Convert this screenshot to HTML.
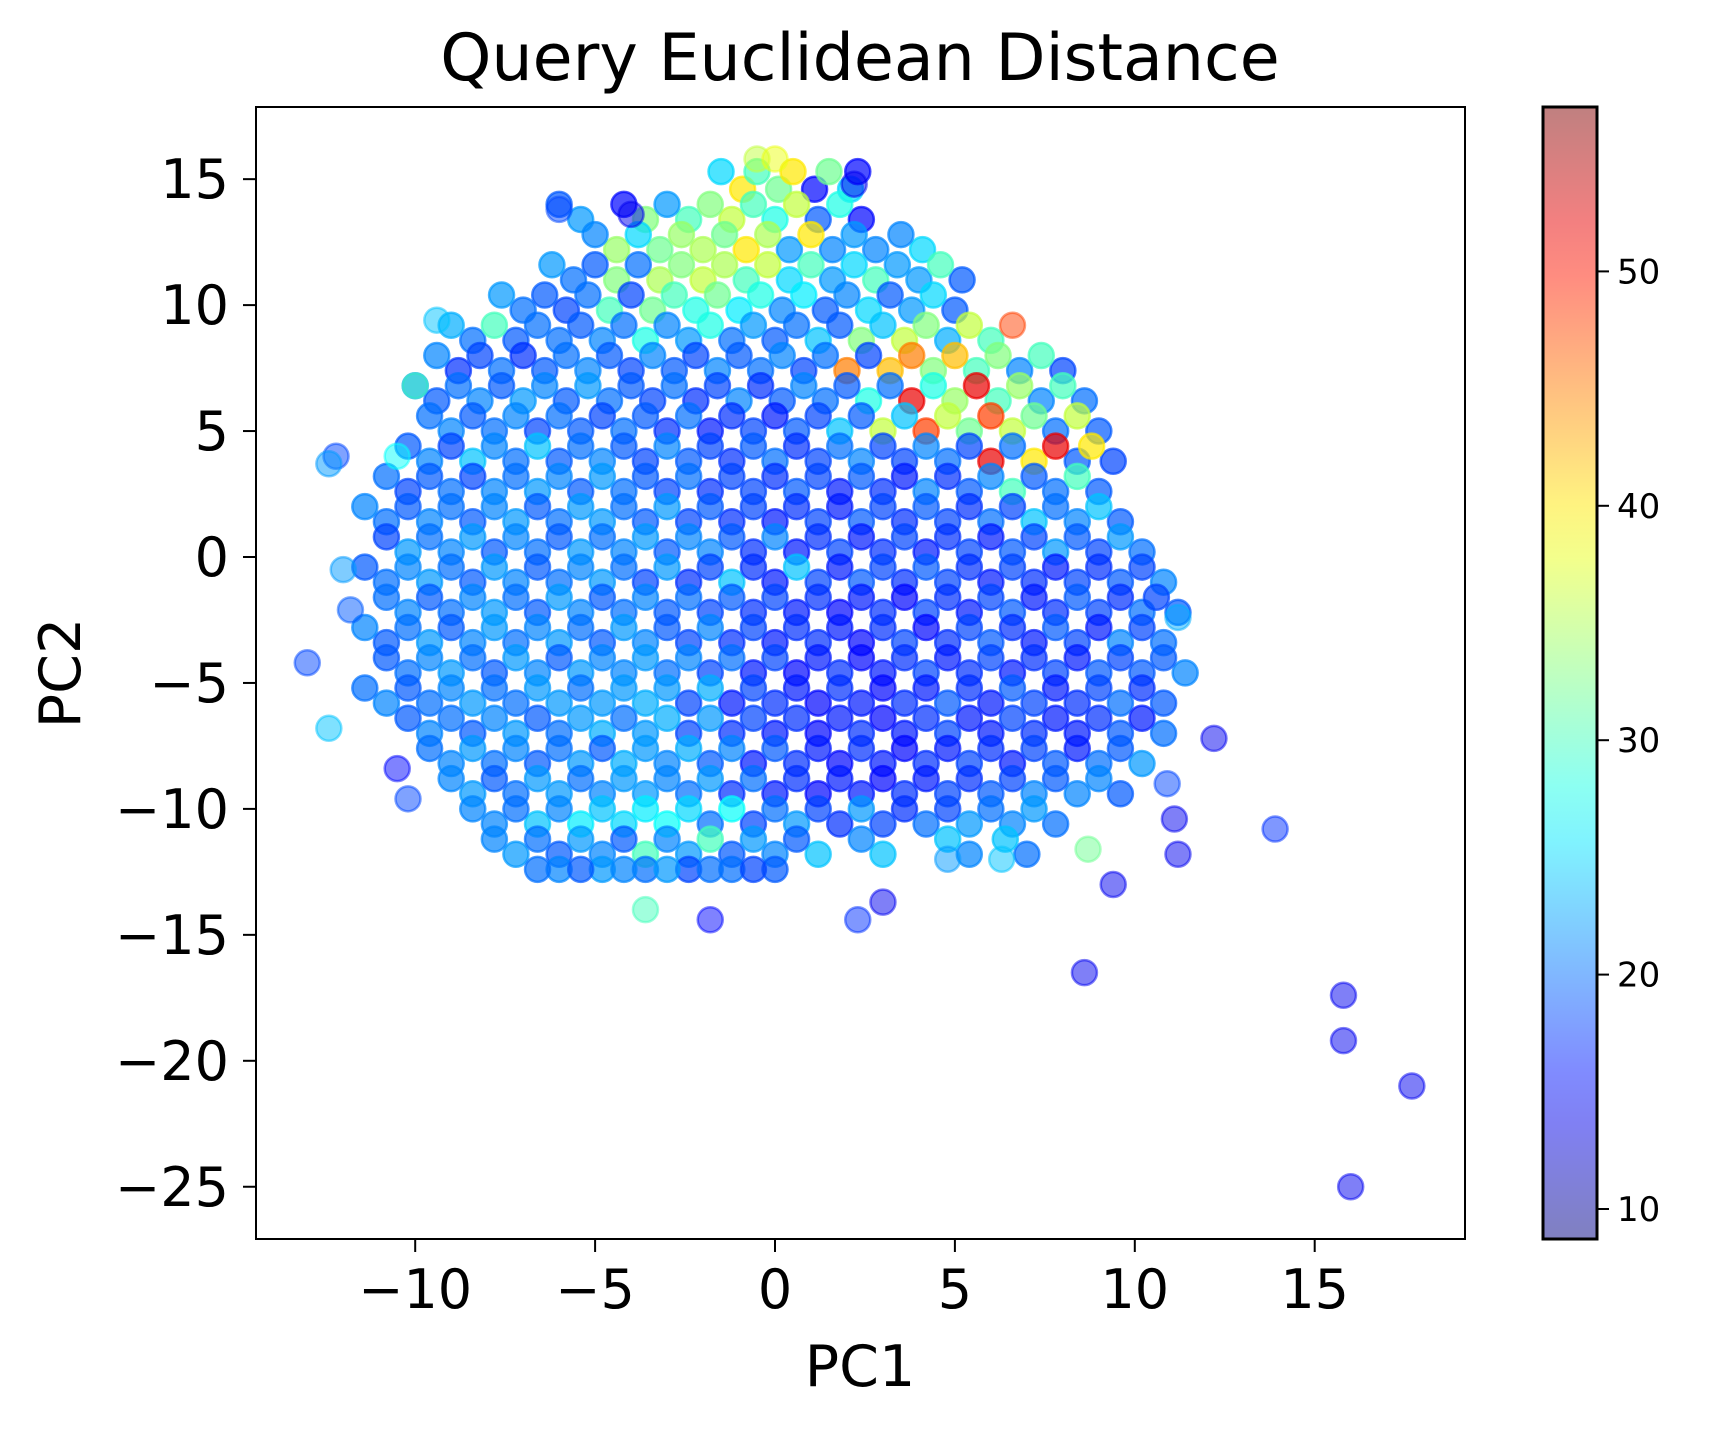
<!DOCTYPE html>
<html><head><meta charset="utf-8"><style>
html,body{margin:0;padding:0;background:#fff}
svg text{font-family:"DejaVu Sans","Liberation Sans",sans-serif;fill:#000}
</style></head><body>
<svg id="chart" width="1709" height="1429" viewBox="0 0 1709 1429" xmlns="http://www.w3.org/2000/svg">
<defs><clipPath id="clip"><rect x="256" y="107" width="1209" height="1132"/></clipPath>
<linearGradient id="cbgrad" x1="0" y1="1" x2="0" y2="0"></linearGradient></defs>
<text x="860" y="80" font-size="65" text-anchor="middle">Query Euclidean Distance</text>
<g id="points" clip-path="url(#clip)"></g>
<rect x="256" y="107" width="1209" height="1132" fill="none" stroke="#000" stroke-width="2"/>
<g id="xticks"></g>
<g id="yticks"></g>
<text x="860" y="1386" font-size="57" text-anchor="middle">PC1</text>
<text x="80" y="673" font-size="57" text-anchor="middle" transform="rotate(-90 80 673)">PC2</text>
<rect x="1543" y="107" width="54" height="1132" fill="url(#cbgrad)" stroke="#000" stroke-width="3"/>
<g id="cbticks"></g>
</svg>
<script>
const xTicks=[-10,-5,0,5,10,15];
const yTicks=[15,10,5,0,-5,-10,-15,-20,-25];
const cTicks=[10,20,30,40,50];
const rowY=[15.3,14,12.8,11.6,10.4,9.2,8,6.8,5.6,4.4,3.2,2,0.8,-0.4,-1.6,-2.8,-4,-5.2,-6.4,-7.6,-8.8,-10,-11.2,-12.4];
const rowY2=[14.6,13.4,12.2,11,9.8,8.6,7.4,6.2,5,3.8,2.6,1.4,0.2,-1,-2.2,-3.4,-4.6,-5.8,-7,-8.2,-9.4,-10.6,-11.8,-12.4];
const rowX=[
[-1.5,-0.5,0.5,1.5,2.3],
[-6,-4.2,-3,-1.8,-0.6,0.6,1.8],
[-5,-3.8,-2.6,-1.4,-0.2,1,2.2,3.5],
[-6.2,-5,-3.8,-2.6,-1.4,-0.2,1,2.2,3.4,4.6],
[-7.6,-6.4,-5.2,-4,-2.8,-1.6,-0.4,0.8,2,3.2,4.4],
[-9,-7.8,-6.6,-5.4,-4.2,-3,-1.8,-0.6,0.6,1.8,3,4.2,5.4],
[-9.4,-8.2,-7,-5.8,-4.6,-3.4,-2.2,-1,0.2,1.4,2.6,3.8,5,6.2,7.4],
[-10,-8.8,-7.6,-6.4,-5.2,-4,-2.8,-1.6,-0.4,0.8,2,3.2,4.4,5.6,6.8,8],
[-9.6,-8.4,-7.2,-6,-4.8,-3.6,-2.4,-1.2,0,1.2,2.4,3.6,4.8,6,7.2,8.4],
[-10.2,-9,-7.8,-6.6,-5.4,-4.2,-3,-1.8,-0.6,0.6,1.8,3,4.2,5.4,6.6,7.8,8.8],
[-10.8,-9.6,-8.4,-7.2,-6,-4.8,-3.6,-2.4,-1.2,0,1.2,2.4,3.6,4.8,6,7.2,8.4],
[-11.4,-10.2,-9,-7.8,-6.6,-5.4,-4.2,-3,-1.8,-0.6,0.6,1.8,3,4.2,5.4,6.6,7.8,9],
[-10.8,-9.6,-8.4,-7.2,-6,-4.8,-3.6,-2.4,-1.2,0,1.2,2.4,3.6,4.8,6,7.2,8.4,9.6],
[-11.4,-10.2,-9,-7.8,-6.6,-5.4,-4.2,-3,-1.8,-0.6,0.6,1.8,3,4.2,5.4,6.6,7.8,9,10.2],
[-10.8,-9.6,-8.4,-7.2,-6,-4.8,-3.6,-2.4,-1.2,0,1.2,2.4,3.6,4.8,6,7.2,8.4,9.6,10.6],
[-11.4,-10.2,-9,-7.8,-6.6,-5.4,-4.2,-3,-1.8,-0.6,0.6,1.8,3,4.2,5.4,6.6,7.8,9,10.2],
[-10.8,-9.6,-8.4,-7.2,-6,-4.8,-3.6,-2.4,-1.2,0,1.2,2.4,3.6,4.8,6,7.2,8.4,9.6,10.8],
[-11.4,-10.2,-9,-7.8,-6.6,-5.4,-4.2,-3,-1.8,-0.6,0.6,1.8,3,4.2,5.4,6.6,7.8,9,10.2],
[-10.2,-9,-7.8,-6.6,-5.4,-4.2,-3,-1.8,-0.6,0.6,1.8,3,4.2,5.4,6.6,7.8,9,10.2],
[-9.6,-8.4,-7.2,-6,-4.8,-3.6,-2.4,-1.2,0,1.2,2.4,3.6,4.8,6,7.2,8.4,9.6],
[-9,-7.8,-6.6,-5.4,-4.2,-3,-1.8,-0.6,0.6,1.8,3,4.2,5.4,6.6,7.8,9],
[-8.4,-7.2,-6,-4.8,-3.6,-2.4,-1.2,0,1.2,2.4,3.6,4.8,6,7.2],
[-7.8,-6.6,-5.4,-4.2,-3,-1.8,-0.6,0.6,2.4,4.8,6.4],
[-6.6,-5.4,-4.2,-3,-1.8,-0.6]];
const rowC=[
[25,30,40,32,15],
[19,15,22,33,30,36,28],
[21,25,34,32,35,40,22,21],
[22,19,20,33,35,36,30,25,22,30],
[22,19,20,18,30,32,28,26,21,19,25],
[23,30,20,19,20,21,28,22,20,19,24,33,36],
[21,18,17,20,19,21,18,19,21,20,18,45,42,33,30],
[21,20,19,21,22,19,20,18,17,21,19,20,28,52,34,30],
[20,19,21,20,18,19,20,17,16,18,19,24,36,48,32,36],
[19,18,21,24,20,19,21,18,19,17,20,18,21,18,20,52,40],
[20,19,18,20,21,22,19,20,18,17,18,19,16,17,21,19,30],
[21,19,20,21,19,22,20,22,19,18,17,16,18,19,17,18,20,24],
[18,20,22,21,19,20,22,21,19,21,17,16,18,17,16,18,19,22],
[19,21,20,22,19,21,20,22,18,17,24,16,18,19,17,18,16,17,18],
[20,19,21,20,22,19,21,20,19,18,17,16,15,17,18,16,19,17,18],
[21,20,19,22,21,20,22,19,21,18,17,16,17,15,18,17,19,16,18],
[19,21,20,22,19,21,22,21,20,18,16,15,17,16,18,17,16,18,19],
[20,19,21,20,22,20,22,22,23,18,16,17,15,16,17,19,16,18,17],
[19,20,21,19,22,20,23,22,18,17,16,15,17,16,18,16,17,16],
[20,22,21,20,19,22,23,21,19,16,17,15,16,17,18,16,19],
[21,19,22,20,22,21,22,20,17,16,15,16,17,18,19,21],
[21,20,21,24,26,25,27,20,18,22,17,18,20,22],
[21,20,22,19,21,30,22,19,21,24,24],
[20,19,21,22,20,18]];
const outX=[-13,-12.4,-12.2,-12.4,-12,-11.8,-6,-4,12.2,11.2,11.1,10.9,11.2,13.9,9.4,8.7,8.6,15.8,15.8,17.7,16,3,2.3,-1.8,-3.6,-10.5,-10.2,-9.4,-10,-10.5,6.3,4.8,6.6,2.2,-0.5,0];
const outY=[-4.2,-6.8,4,3.7,-0.5,-2.1,13.8,13.6,-7.2,-11.8,-10.4,-9,-2.4,-10.8,-13,-11.6,-16.5,-17.4,-19.2,-21,-25,-13.7,-14.4,-14.4,-14,-8.4,-9.6,9.4,6.8,4,-12,-12,9.2,14.8,15.8,15.8];
const outC=[18,24,18,22,22,19,18,14,14,14,14,18,23,17,14,32,14,14,14,14,14,14,17,15,30,15,18,24,30,27,24,22,48,14,36,38];

const sx=v=>775+v*35.98, sy=v=>557-v*25.19;
const cmin=8.72,cmax=57.0, cy=v=>1209-(v-10)*23.44;
function jet(v){let t=(v-cmin)/(cmax-cmin);t=Math.max(0,Math.min(1,t));
 const f=a=>Math.round(255*Math.max(0,Math.min(1,1.5-Math.abs(4*t-a))));
 return `rgb(${f(3)},${f(2)},${f(1)})`;}
const NS='http://www.w3.org/2000/svg';
function mk(tag,attrs,parent){const e=document.createElementNS(NS,tag);for(const k in attrs)e.setAttribute(k,attrs[k]);parent.appendChild(e);return e;}
const pg=document.getElementById('points');
function dot(x,y,c,op){const e=mk('circle',{cx:sx(x),cy:sy(y),r:12.5,fill:jet(c),'fill-opacity':op,stroke:jet(c),'stroke-opacity':op,'stroke-width':2.5},pg);
 
 }
rowY2.forEach((y,i)=>rowX[i].forEach((x,j)=>{const n=rowC[i].length;if(i===0&&j>3)return;dot(x+0.6,y,rowC[i][(j+2)%n],0.7);}));
rowY.forEach((y,i)=>rowX[i].forEach((x,j)=>dot(x,y,rowC[i][j],0.7)));
outX.forEach((x,i)=>dot(x,outY[i],outC[i],0.5));
const xg=document.getElementById('xticks');
xTicks.forEach(v=>{const x=sx(v);
 const l=mk('line',{x1:x,x2:x,y1:1239,y2:1252,stroke:'#000','stroke-width':2},xg);
 
 
 const t=mk('text',{x:x,y:1308,'font-size':54,'text-anchor':'middle'},xg);t.textContent=String(v).replace('-','\u2212');
 
 });
const yg=document.getElementById('yticks');
yTicks.forEach(v=>{const y=sy(v);
 const l=mk('line',{x1:243,x2:256,y1:y,y2:y,stroke:'#000','stroke-width':2},yg);
 
 
 const t=mk('text',{x:229,y:y+19,'font-size':54,'text-anchor':'end'},yg);t.textContent=String(v).replace('-','\u2212');
 
 });
const gr=document.getElementById('cbgrad');
for(let i=0;i<=20;i++){const v=cmin+(cmax-cmin)*i/20;mk('stop',{offset:i/20,'stop-color':jet(v),'stop-opacity':0.5},gr);}
const cg=document.getElementById('cbticks');
cTicks.forEach(v=>{const y=cy(v);
 const l=mk('line',{x1:1597,x2:1609,y1:y,y2:y,stroke:'#000','stroke-width':2},cg);
 
 
 const t=mk('text',{x:1617,y:y+12,'font-size':34},cg);t.textContent=v;
 
 });
</script>
</body></html>
